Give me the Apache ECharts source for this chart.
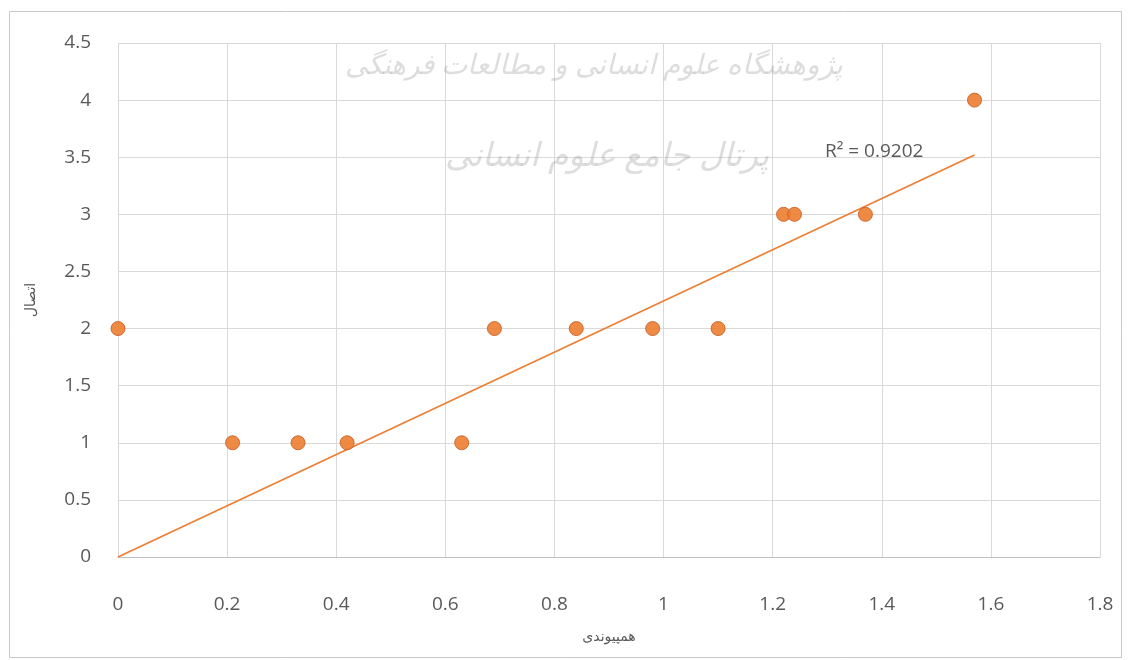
<!DOCTYPE html>
<html>
<head>
<meta charset="utf-8">
<script src="https://cdn.jsdelivr.net/npm/echarts@6/dist/echarts.min.js"></script>
<style>
  html, body { margin: 0; padding: 0; background: #fff; }
  #chart { width: 1130px; height: 660px; }
</style>
</head>
<body>
<div id="chart"></div>
<script>
// Observations: همپیوندی (x) against اتصال (y)
const xValues = [0, 0.21, 0.33, 0.42, 0.63, 0.69, 0.84, 0.98, 1.10, 1.22, 1.24, 1.37, 1.57];
const yValues = [2, 1, 1, 1, 1, 2, 2, 2, 2, 3, 3, 3, 4];

// Linear trendline (through the origin) endpoints
const trendX = [0, 1.57];
const trendY = [0, 3.52];
const rSquaredText = 'R² = 0.9202';

const xAxisTitle = 'همپیوندی';
const yAxisTitle = 'اتصال';
const watermarkLine1 = 'پژوهشگاه علوم انسانی و مطالعات فرهنگی';
const watermarkLine2 = 'پرتال جامع علوم انسانی';

const points = xValues.map((x, i) => [x, yValues[i]]);
const trend = trendX.map((x, i) => [x, trendY[i]]);

const labelFont = '"Open Sans", "Noto Sans", sans-serif';
const textGray = '#595959';
const gridGray = '#d9d9d9';

const chart = echarts.init(document.getElementById('chart'), null, { renderer: 'canvas' });

chart.setOption({
  backgroundColor: '#ffffff',
  animation: false,
  grid: { left: 118, right: 30, top: 43, bottom: 103 },
  xAxis: {
    type: 'value',
    min: 0, max: 1.8, interval: 0.2,
    axisLine: { show: true, lineStyle: { color: '#bfbfbf', width: 1 } },
    axisTick: { show: false },
    splitLine: { show: true, lineStyle: { color: gridGray, width: 1 } },
    axisLabel: {
      color: textGray, fontSize: 19, fontFamily: labelFont, margin: 38,
      formatter: v => String(Math.round(v * 10) / 10)
    },
    name: xAxisTitle,
    nameLocation: 'middle',
    nameGap: 73,
    nameTextStyle: { color: textGray, fontSize: 14, fontFamily: '"Noto Sans", "DejaVu Sans", sans-serif' }
  },
  yAxis: {
    type: 'value',
    min: 0, max: 4.5, interval: 0.5,
    axisLine: { show: false },
    axisTick: { show: false },
    splitLine: { show: true, lineStyle: { color: gridGray, width: 1 } },
    axisLabel: {
      color: textGray, fontSize: 19, fontFamily: labelFont, margin: 27,
      formatter: v => String(Math.round(v * 10) / 10)
    },
    name: yAxisTitle,
    nameLocation: 'middle',
    nameGap: 80,
    nameRotate: 90,
    nameTextStyle: { color: textGray, fontSize: 14, fontFamily: '"Noto Sans", "DejaVu Sans", sans-serif' }
  },
  graphic: [
    {
      type: 'rect',
      silent: true,
      shape: { x: 9.5, y: 11.5, width: 1112, height: 646 },
      style: { fill: 'none', stroke: '#c8c8c8', lineWidth: 1 },
      z: -10
    },
    {
      type: 'text',
      silent: true,
      left: 345, top: 52,
      style: {
        text: watermarkLine1,
        fill: 'rgba(150,150,150,0.32)',
        font: 'italic 28px "Noto Sans", "DejaVu Sans", sans-serif'
      },
      z: 1
    },
    {
      type: 'text',
      silent: true,
      left: 445, top: 140,
      style: {
        text: watermarkLine2,
        fill: 'rgba(150,150,150,0.32)',
        font: 'italic 33px "Noto Sans", "DejaVu Sans", sans-serif'
      },
      z: 1
    },
    {
      type: 'text',
      silent: true,
      left: 825, top: 142,
      style: {
        text: rSquaredText,
        fill: textGray,
        font: '19px "Open Sans", "Noto Sans", sans-serif'
      },
      z: 10
    }
  ],
  series: [
    {
      type: 'line',
      data: trend,
      symbol: 'none',
      lineStyle: { color: '#ED7D31', width: 1.6 },
      z: 3
    },
    {
      type: 'scatter',
      data: points,
      symbol: 'circle',
      symbolSize: 14,
      itemStyle: { color: '#ED7D31', borderColor: '#c8622a', borderWidth: 1, opacity: 0.9 },
      z: 4
    }
  ]
});
</script>
</body>
</html>
